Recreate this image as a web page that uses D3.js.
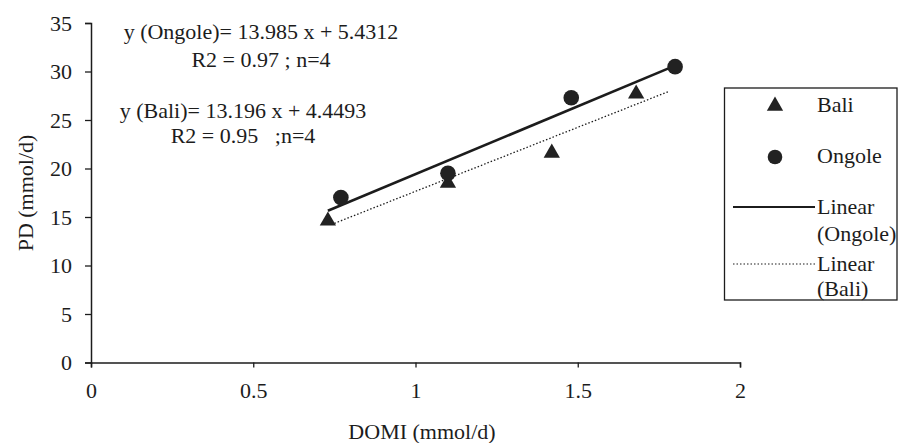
<!DOCTYPE html>
<html>
<head>
<meta charset="utf-8">
<script src="https://cdn.jsdelivr.net/npm/d3@7"></script>
<style>
  body { margin: 0; background: #fff; }
  svg { display: block; }
  text { font-family: "Liberation Serif", "Times New Roman", serif; fill: #1c1c1c; white-space: pre; }
</style>
</head>
<body>
<svg id="chart" width="899" height="443"></svg>
<script>
// data
const baliX = [0.73, 1.10, 1.42, 1.68];
const baliY = [14.7, 18.6, 21.7, 27.8];
const ongoleX = [0.77, 1.10, 1.48, 1.80];
const ongoleY = [17.0, 19.5, 27.3, 30.5];
const ongoleFit = { slope: 13.985, icpt: 5.4312, from: 0.73, to: 1.80 };
const baliFit = { slope: 13.196, icpt: 4.4493, from: 0.75, to: 1.78 };
const xTicks = [0, 0.5, 1, 1.5, 2];
const yTicks = [0, 5, 10, 15, 20, 25, 30, 35];
const notes = [
  "y (Ongole)= 13.985 x + 5.4312",
  "R2 = 0.97 ; n=4",
  "y (Bali)= 13.196 x + 4.4493",
  "R2 = 0.95   ;n=4"
];
const legendLabels = ["Bali", "Ongole", "Linear", "(Ongole)", "Linear", "(Bali)"];

const ink = "#1c1c1c";
const fs = 22;
const svg = d3.select("#chart");

const x = d3.scaleLinear().domain([0, 2]).range([91, 740]);
const y = d3.scaleLinear().domain([0, 35]).range([362.5, 23]);

// axes
const xAxis = svg.append("g")
    .attr("transform", "translate(0," + y(0) + ")")
    .call(d3.axisBottom(x).tickValues(xTicks).tickSize(5).tickPadding(15)
      .tickFormat(d => String(d)));
const yAxis = svg.append("g")
    .attr("transform", "translate(" + x(0) + ",0)")
    .call(d3.axisLeft(y).tickValues(yTicks).tickSize(6).tickPadding(13));
[xAxis, yAxis].forEach(function (g) {
  g.select(".domain").attr("stroke", ink).attr("stroke-width", 1.5);
  g.selectAll(".tick line").attr("stroke", ink).attr("stroke-width", 1.3);
  g.selectAll(".tick text").attr("font-size", fs).attr("fill", ink)
    .style("font-family", "'Liberation Serif', serif");
});

// axis titles
svg.append("text")
    .attr("x", 422).attr("y", 439)
    .attr("text-anchor", "middle").attr("font-size", fs)
    .text("DOMI (mmol/d)");
svg.append("text")
    .attr("transform", "translate(33,193) rotate(-90)")
    .attr("text-anchor", "middle").attr("font-size", fs)
    .text("PD (mmol/d)");

// trend lines
const line = d3.line().x(d => x(d[0])).y(d => y(d[1]));
function fitPts(f) {
  return [f.from, f.to].map(v => [v, f.slope * v + f.icpt]);
}
svg.append("path")
    .attr("d", line(fitPts(baliFit)))
    .attr("fill", "none").attr("stroke", ink)
    .attr("stroke-width", 1.3).attr("stroke-dasharray", "1.5,2");
svg.append("path")
    .attr("d", line(fitPts(ongoleFit)))
    .attr("fill", "none").attr("stroke", ink).attr("stroke-width", 2.6);

// markers
const tri = d3.symbol().type(d3.symbolTriangle).size(115);
svg.selectAll(".bali")
    .data(d3.zip(baliX, baliY))
    .join("path")
    .attr("class", "bali")
    .attr("d", tri)
    .attr("transform", d => "translate(" + x(d[0]) + "," + (y(d[1]) + 1) + ")")
    .attr("fill", "#222");
svg.selectAll(".ongole")
    .data(d3.zip(ongoleX, ongoleY))
    .join("circle")
    .attr("class", "ongole")
    .attr("cx", d => x(d[0])).attr("cy", d => y(d[1]))
    .attr("r", 7.8)
    .attr("fill", "#222");

// equations
const notePos = [[261, 39], [261, 67], [243, 118], [243, 143]];
notes.forEach(function (t, i) {
  svg.append("text")
      .attr("x", notePos[i][0]).attr("y", notePos[i][1])
      .attr("text-anchor", "middle").attr("font-size", fs)
      .text(t);
});

// legend
const lg = svg.append("g");
lg.append("rect")
    .attr("x", 724.5).attr("y", 88).attr("width", 172.5).attr("height", 212)
    .attr("fill", "#fff").attr("stroke", ink).attr("stroke-width", 1.3);
lg.append("path").attr("d", tri)
    .attr("transform", "translate(775,106)").attr("fill", "#222");
lg.append("circle").attr("cx", 775).attr("cy", 157).attr("r", 7.3).attr("fill", "#222");
lg.append("line").attr("x1", 733).attr("x2", 815).attr("y1", 207).attr("y2", 207)
    .attr("stroke", ink).attr("stroke-width", 2);
lg.append("line").attr("x1", 733).attr("x2", 815).attr("y1", 264).attr("y2", 264)
    .attr("stroke", ink).attr("stroke-width", 1.2).attr("stroke-dasharray", "1.5,2");
const legendBase = [112, 163, 214, 241, 271, 296];
legendLabels.forEach(function (t, i) {
  lg.append("text").attr("x", 817).attr("y", legendBase[i])
      .attr("font-size", fs).text(t);
});
</script>
</body>
</html>
